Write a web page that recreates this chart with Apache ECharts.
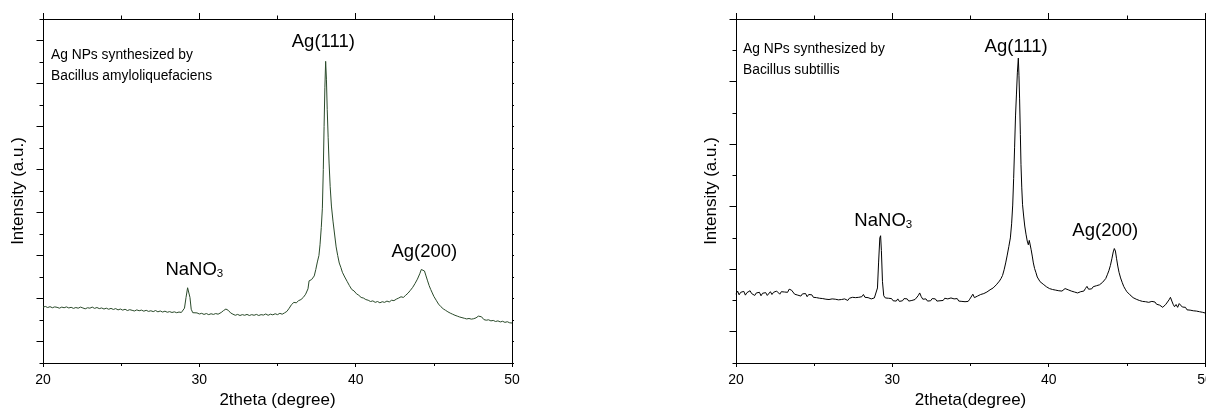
<!DOCTYPE html>
<html>
<head>
<meta charset="utf-8">
<script src="https://cdn.jsdelivr.net/npm/echarts@6/dist/echarts.min.js"></script>
<style>
html,body{margin:0;padding:0;background:#fff;}
#c{width:1206px;height:408px;}
</style>
</head>
<body>
<div id="c"></div>
<script>
// ---- Data: [2theta (deg), intensity (a.u., arbitrary units)] ----
const amyloData = [
[20.0,2.60],[20.15,2.63],[20.3,2.58],[20.45,2.62],[20.6,2.57],[20.75,2.61],[20.9,2.59],[21.05,2.55],[21.2,2.60],[21.35,2.57],
[21.5,2.61],[21.65,2.56],[21.8,2.59],[21.95,2.54],[22.1,2.58],[22.25,2.55],[22.4,2.60],[22.55,2.56],[22.7,2.52],[22.85,2.57],
[23.0,2.55],[23.15,2.60],[23.3,2.54],[23.45,2.58],[23.6,2.53],[23.75,2.56],[23.9,2.51],[24.05,2.55],[24.2,2.50],[24.35,2.54],
[24.5,2.49],[24.65,2.53],[24.8,2.47],[24.95,2.51],[25.1,2.46],[25.25,2.50],[25.4,2.44],[25.55,2.48],[25.7,2.45],[25.85,2.42],
[26.0,2.47],[26.15,2.43],[26.3,2.46],[26.45,2.41],[26.6,2.45],[26.75,2.40],[26.9,2.43],[27.05,2.39],[27.2,2.44],[27.35,2.38],
[27.5,2.42],[27.65,2.37],[27.8,2.41],[27.95,2.36],[28.1,2.39],[28.25,2.35],[28.4,2.38],[28.55,2.34],[28.7,2.37],[28.85,2.35],
[28.95,2.40],[29.05,2.55],[29.15,3.05],[29.25,3.50],[29.32,3.53],[29.4,3.05],[29.48,2.50],[29.58,2.34],[29.7,2.30],[29.85,2.33],
[30.0,2.28],[30.15,2.31],[30.3,2.26],[30.45,2.30],[30.6,2.25],[30.75,2.29],[30.9,2.26],[31.05,2.30],[31.2,2.27],[31.4,2.35],
[31.55,2.44],[31.7,2.51],[31.85,2.45],[32.0,2.33],[32.15,2.27],[32.3,2.22],[32.45,2.26],[32.6,2.21],[32.75,2.25],[32.9,2.22],
[33.05,2.26],[33.2,2.21],[33.35,2.25],[33.5,2.22],[33.65,2.26],[33.8,2.21],[33.95,2.25],[34.1,2.23],[34.25,2.28],[34.4,2.22],
[34.55,2.27],[34.7,2.24],[34.85,2.29],[35.0,2.25],[35.15,2.31],[35.3,2.27],[35.45,2.33],[35.6,2.40],[35.75,2.55],[35.9,2.72],
[36.05,2.82],[36.2,2.80],[36.35,2.90],[36.5,2.95],[36.65,3.05],[36.8,3.20],[36.95,3.45],[37.02,3.82],[37.1,3.80],[37.18,3.88],
[37.25,3.95],[37.35,4.05],[37.45,4.35],[37.55,4.70],[37.65,5.00],[37.72,5.50],[37.8,6.30],[37.87,7.20],[37.93,9.00],[37.98,11.0],
[38.03,12.8],[38.08,14.03],[38.13,13.2],[38.18,11.8],[38.24,10.5],[38.3,9.30],[38.37,8.20],[38.45,7.30],[38.55,6.60],[38.65,6.00],
[38.75,5.40],[38.85,5.00],[38.95,4.65],[39.05,4.45],[39.15,4.22],[39.3,4.00],[39.45,3.80],[39.6,3.60],[39.75,3.42],[39.9,3.35],
[40.05,3.22],[40.2,3.15],[40.35,3.05],[40.5,3.02],[40.65,2.95],[40.8,2.92],[40.95,2.86],[41.1,2.89],[41.25,2.82],[41.4,2.86],
[41.55,2.80],[41.7,2.85],[41.85,2.82],[42.0,2.88],[42.15,2.84],[42.3,2.92],[42.45,2.90],[42.6,2.97],[42.75,3.02],[42.9,3.08],
[43.05,3.05],[43.2,3.15],[43.35,3.25],[43.5,3.38],[43.65,3.52],[43.8,3.70],[43.95,3.90],[44.1,4.15],[44.2,4.35],[44.3,4.42],
[44.4,4.28],[44.5,4.05],[44.6,3.82],[44.7,3.60],[44.8,3.42],[44.9,3.26],[45.0,3.10],[45.15,2.92],[45.3,2.74],[45.45,2.62],
[45.6,2.52],[45.75,2.45],[45.9,2.38],[46.05,2.32],[46.2,2.27],[46.35,2.22],[46.5,2.18],[46.65,2.14],[46.8,2.11],[46.95,2.08],
[47.1,2.05],[47.25,2.07],[47.4,2.04],[47.55,2.06],[47.7,2.10],[47.85,2.18],[47.95,2.26],[48.05,2.15],[48.2,2.02],[48.35,1.99],
[48.5,2.01],[48.65,1.96],[48.8,1.98],[48.95,1.93],[49.1,1.96],[49.25,1.91],[49.4,1.94],[49.55,1.89],[49.7,1.92],[49.85,1.87],
[50.0,1.86]
];

const subtilisData = [
[20.0,2.20],[20.1,2.30],[20.2,2.18],[20.3,2.26],[20.4,2.21],[20.5,2.29],[20.6,2.17],[20.7,2.25],[20.8,2.20],[20.9,2.31],
[21.0,2.22],[21.1,2.27],[21.2,2.16],[21.3,2.24],[21.4,2.19],[21.5,2.26],[21.6,2.15],[21.7,2.23],[21.8,2.18],[21.9,2.25],
[22.0,2.16],[22.1,2.22],[22.2,2.28],[22.3,2.19],[22.4,2.26],[22.5,2.21],[22.6,2.30],[22.7,2.24],[22.8,2.20],[22.9,2.28],
[23.0,2.22],[23.1,2.27],[23.2,2.31],[23.3,2.26],[23.4,2.36],[23.48,2.42],[23.55,2.33],[23.65,2.28],[23.75,2.20],[23.85,2.26],
[23.95,2.17],[24.05,2.23],[24.15,2.14],[24.25,2.21],[24.35,2.15],[24.45,2.22],[24.55,2.12],[24.65,2.19],[24.75,2.13],[24.85,2.18],
[24.95,2.10],[25.05,2.16],[25.15,2.09],[25.25,2.15],[25.35,2.07],[25.45,2.13],[25.55,2.06],[25.65,2.12],[25.75,2.04],[25.85,2.10],
[25.95,2.03],[26.05,2.09],[26.15,2.05],[26.25,2.11],[26.35,2.04],[26.45,2.10],[26.55,2.02],[26.65,2.08],[26.75,2.03],[26.85,2.09],
[26.95,2.05],[27.05,2.11],[27.15,2.00],[27.25,2.07],[27.35,2.02],[27.45,2.10],[27.55,2.04],[27.65,2.09],[27.75,2.03],[27.85,2.10],
[27.95,2.06],[28.05,2.12],[28.15,2.19],[28.25,2.10],[28.35,2.06],[28.45,2.09],[28.55,2.03],[28.65,2.05],[28.75,2.00],[28.85,2.08],
[28.95,2.14],[29.05,2.40],[29.12,3.20],[29.2,4.00],[29.25,4.07],[29.3,3.60],[29.37,2.60],[29.45,2.15],[29.55,2.08],[29.65,2.02],
[29.75,2.07],[29.85,2.01],[29.95,2.06],[30.05,1.99],[30.15,2.04],[30.25,1.98],[30.35,2.05],[30.45,1.97],[30.55,2.03],[30.65,1.99],
[30.75,2.06],[30.85,2.00],[30.95,2.05],[31.05,1.98],[31.15,2.04],[31.25,2.00],[31.35,2.06],[31.45,2.03],[31.55,2.09],[31.65,2.15],
[31.75,2.24],[31.85,2.12],[31.95,2.04],[32.05,2.00],[32.15,2.05],[32.25,1.98],[32.35,2.04],[32.45,1.99],[32.55,2.06],[32.65,2.01],
[32.75,2.05],[32.85,1.98],[32.95,2.03],[33.05,1.99],[33.15,2.04],[33.25,2.00],[33.35,2.07],[33.45,2.02],[33.55,2.05],[33.65,2.00],
[33.75,2.08],[33.85,2.11],[33.95,2.05],[34.05,2.01],[34.15,2.06],[34.25,1.98],[34.35,2.03],[34.45,1.97],[34.55,2.02],[34.65,1.96],
[34.75,2.01],[34.85,1.97],[34.95,2.04],[35.05,2.10],[35.15,2.20],[35.25,2.09],[35.35,2.05],[35.45,2.14],[35.55,2.10],[35.65,2.19],
[35.75,2.14],[35.85,2.22],[35.95,2.18],[36.05,2.27],[36.15,2.24],[36.25,2.34],[36.35,2.31],[36.45,2.40],[36.55,2.42],[36.65,2.50],
[36.75,2.54],[36.85,2.62],[36.95,2.70],[37.05,2.80],[37.15,2.98],[37.25,3.20],[37.35,3.45],[37.45,3.72],[37.55,4.00],[37.63,4.45],
[37.7,5.05],[37.76,5.90],[37.82,6.88],[37.88,7.90],[37.94,8.60],[38.0,9.30],[38.06,9.75],[38.1,9.20],[38.14,8.47],[38.19,7.30],
[38.23,6.34],[38.28,5.60],[38.33,5.06],[38.4,4.70],[38.47,4.38],[38.55,4.12],[38.63,3.90],[38.7,3.78],[38.76,3.92],[38.82,3.86],
[38.88,3.62],[38.95,3.42],[39.02,3.20],[39.1,3.02],[39.18,2.90],[39.27,2.75],[39.36,2.70],[39.45,2.60],[39.55,2.64],[39.65,2.52],
[39.75,2.49],[39.85,2.44],[39.95,2.46],[40.05,2.38],[40.15,2.42],[40.25,2.35],[40.35,2.40],[40.45,2.33],[40.55,2.38],[40.65,2.31],
[40.75,2.36],[40.85,2.30],[40.95,2.35],[41.05,2.38],[41.15,2.42],[41.25,2.34],[41.35,2.36],[41.45,2.30],[41.55,2.35],[41.65,2.27],
[41.75,2.33],[41.85,2.24],[41.95,2.30],[42.05,2.28],[42.15,2.34],[42.25,2.30],[42.35,2.38],[42.45,2.45],[42.55,2.36],[42.65,2.42],
[42.75,2.37],[42.85,2.44],[42.95,2.40],[43.05,2.47],[43.15,2.43],[43.25,2.50],[43.35,2.52],[43.45,2.58],[43.55,2.63],[43.65,2.70],
[43.75,2.82],[43.85,2.95],[43.95,3.12],[44.05,3.35],[44.13,3.55],[44.2,3.66],[44.27,3.58],[44.34,3.35],[44.42,3.10],[44.5,2.90],
[44.6,2.72],[44.7,2.58],[44.8,2.45],[44.9,2.36],[45.0,2.28],[45.1,2.24],[45.2,2.18],[45.3,2.14],[45.4,2.09],[45.5,2.10],
[45.6,2.04],[45.7,2.06],[45.8,2.00],[45.9,2.03],[46.0,1.97],[46.1,2.00],[46.2,1.96],[46.3,1.99],[46.4,1.94],[46.5,2.00],
[46.6,1.97],[46.7,1.92],[46.8,1.95],[46.9,1.88],[47.0,1.91],[47.1,1.85],[47.2,1.82],[47.3,1.78],[47.4,1.84],[47.5,1.88],
[47.6,1.92],[47.7,2.02],[47.79,2.10],[47.88,1.98],[47.96,1.88],[48.05,1.80],[48.15,1.87],[48.25,1.78],[48.35,1.90],[48.45,1.84],
[48.55,1.79],[48.65,1.74],[48.75,1.78],[48.85,1.70],[48.95,1.75],[49.05,1.69],[49.15,1.73],[49.25,1.67],[49.35,1.72],[49.45,1.66],
[49.55,1.70],[49.65,1.64],[49.75,1.68],[49.85,1.62],[49.95,1.66],[50.0,1.60]
];

const xTicks = [20, 30, 40, 50];
const leftMajorTicks = [1, 3, 5, 7, 9, 11, 13, 15];
const rightMajorTicks = [1, 3, 5, 7, 9, 11];
const leftYMax = 16;
const rightYMax = 11;

const leftNote = ['Ag NPs synthesized by', 'Bacillus amyloliquefaciens'];
const rightNote = ['Ag NPs synthesized by', 'Bacillus subtillis'];
const leftPeaks = [
  { text: 'Ag(111)', x: 37.93, y: 14.94 },
  { text: 'Ag(200)', x: 44.39, y: 5.18 },
  { text: 'NaNO{s|3}', x: 29.68, y: 4.31 }
];
const rightPeaks = [
  { text: 'Ag(111)', x: 37.92, y: 10.12 },
  { text: 'Ag(200)', x: 43.62, y: 4.21 },
  { text: 'NaNO{s|3}', x: 29.42, y: 4.53 }
];

// ---- Chart ----
const FONT = '"Liberation Sans", Arial, sans-serif';
const chart = echarts.init(document.getElementById('c'), null, { renderer: 'canvas' });

const G = [
  { left: 43, top: 19, width: 469, height: 344 },
  { left: 736, top: 19, width: 469, height: 344 }
];
const grids = [G[0], G[0], G[1], G[1]].map(g => Object.assign({ containLabel: false, outerBoundsMode: 'none' }, g));

const lineStyle = { color: '#000', width: 1 };

function xAxes(gridIdx, name) {
  const base = { type: 'value', min: 20, max: 50, interval: 10, splitLine: { show: false } };
  return [
    Object.assign({}, base, {
      gridIndex: gridIdx, position: 'bottom',
      axisLine: { show: true, onZero: false, lineStyle },
      axisTick: { show: true, inside: false, length: 4, lineStyle },
      minorTick: { show: true, splitNumber: 2, length: 3, lineStyle },
      axisLabel: { show: true, margin: 10, fontSize: 14, color: '#000', fontFamily: FONT, hideOverlap: false },
      name: name, nameLocation: 'middle', nameGap: 28,
      nameTextStyle: { fontSize: 17, color: '#000', fontFamily: FONT }
    }),
    Object.assign({}, base, {
      gridIndex: gridIdx, position: 'top',
      axisLine: { show: true, onZero: false, lineStyle },
      axisTick: { show: true, inside: false, length: 6, lineStyle },
      minorTick: { show: true, splitNumber: 2, length: 3.5, lineStyle },
      axisLabel: { show: false }
    }),
    Object.assign({}, base, { gridIndex: gridIdx + 1, show: false })
  ];
}

function yAxes(gridIdx, max, majors, name) {
  return [
    {
      type: 'value', gridIndex: gridIdx, position: 'left', min: 0, max: max, interval: 1,
      splitLine: { show: false },
      axisLine: { show: true, onZero: false, lineStyle },
      axisTick: { show: true, inside: false, length: 3.5, lineStyle },
      axisLabel: { show: false },
      name: name, nameLocation: 'middle', nameGap: 16,
      nameTextStyle: { fontSize: 17, color: '#000', fontFamily: FONT }
    },
    {
      type: 'value', gridIndex: gridIdx, position: 'right', min: 0, max: max, interval: 1,
      splitLine: { show: false },
      axisLine: { show: true, onZero: false, lineStyle },
      axisTick: { show: true, inside: false, length: 2, lineStyle },
      axisLabel: { show: false }
    },
    {
      type: 'value', gridIndex: gridIdx + 1, position: 'left', min: 0, max: max,
      splitLine: { show: false },
      axisLine: { show: false, onZero: false },
      axisTick: { show: true, inside: false, length: 6.5, lineStyle, customValues: majors },
      axisLabel: { show: false }
    }
  ];
}

const option = {
  animation: false,
  backgroundColor: '#fff',
  textStyle: { fontFamily: FONT },
  grid: grids,
  xAxis: [].concat(xAxes(0, '2theta (degree)'), xAxes(2, '2theta(degree)')),
  yAxis: [].concat(yAxes(0, leftYMax, leftMajorTicks, 'Intensity (a.u.)'),
                   yAxes(2, rightYMax, rightMajorTicks, 'Intensity (a.u.)')),
  series: [
    {
      type: 'line', xAxisIndex: 0, yAxisIndex: 0, data: amyloData,
      showSymbol: false, symbol: 'none', smooth: false,
      lineStyle: { color: '#2a4a2a', width: 1 }, silent: true
    },
    {
      type: 'line', xAxisIndex: 3, yAxisIndex: 3, data: subtilisData,
      showSymbol: false, symbol: 'none', smooth: false,
      lineStyle: { color: '#000', width: 1 }, silent: true
    }
  ]
};
chart.setOption(option);

// ---- Annotations (placed through the axes' own scales) ----
function peakTexts(peaks, xIdx, yIdx) {
  return peaks.map(p => {
    const pt = chart.convertToPixel({ xAxisIndex: xIdx, yAxisIndex: yIdx }, [p.x, p.y]);
    return {
      type: 'text', x: pt[0], y: pt[1], silent: true,
      style: {
        text: p.text, fill: '#000', fontSize: 18.5, fontFamily: FONT,
        align: 'center', verticalAlign: 'middle',
        rich: { s: { fontSize: 11.5, fontFamily: FONT, fill: '#000', verticalAlign: 'bottom', padding: [4, 0, 0, 0] } }
      }
    };
  });
}
function noteTexts(lines, gridRect, dx, dy) {
  return lines.map((t, i) => ({
    type: 'text', x: gridRect.left + dx, y: gridRect.top + dy + i * 21, silent: true,
    style: { text: t, fill: '#000', fontSize: 13.8, fontFamily: FONT, align: 'left', verticalAlign: 'middle' }
  }));
}

chart.setOption({
  graphic: [].concat(
    peakTexts(leftPeaks, 0, 0),
    peakTexts(rightPeaks, 3, 3),
    noteTexts(leftNote, G[0], 8, 36),
    noteTexts(rightNote, G[1], 7, 30)
  )
});
</script>
</body>
</html>
